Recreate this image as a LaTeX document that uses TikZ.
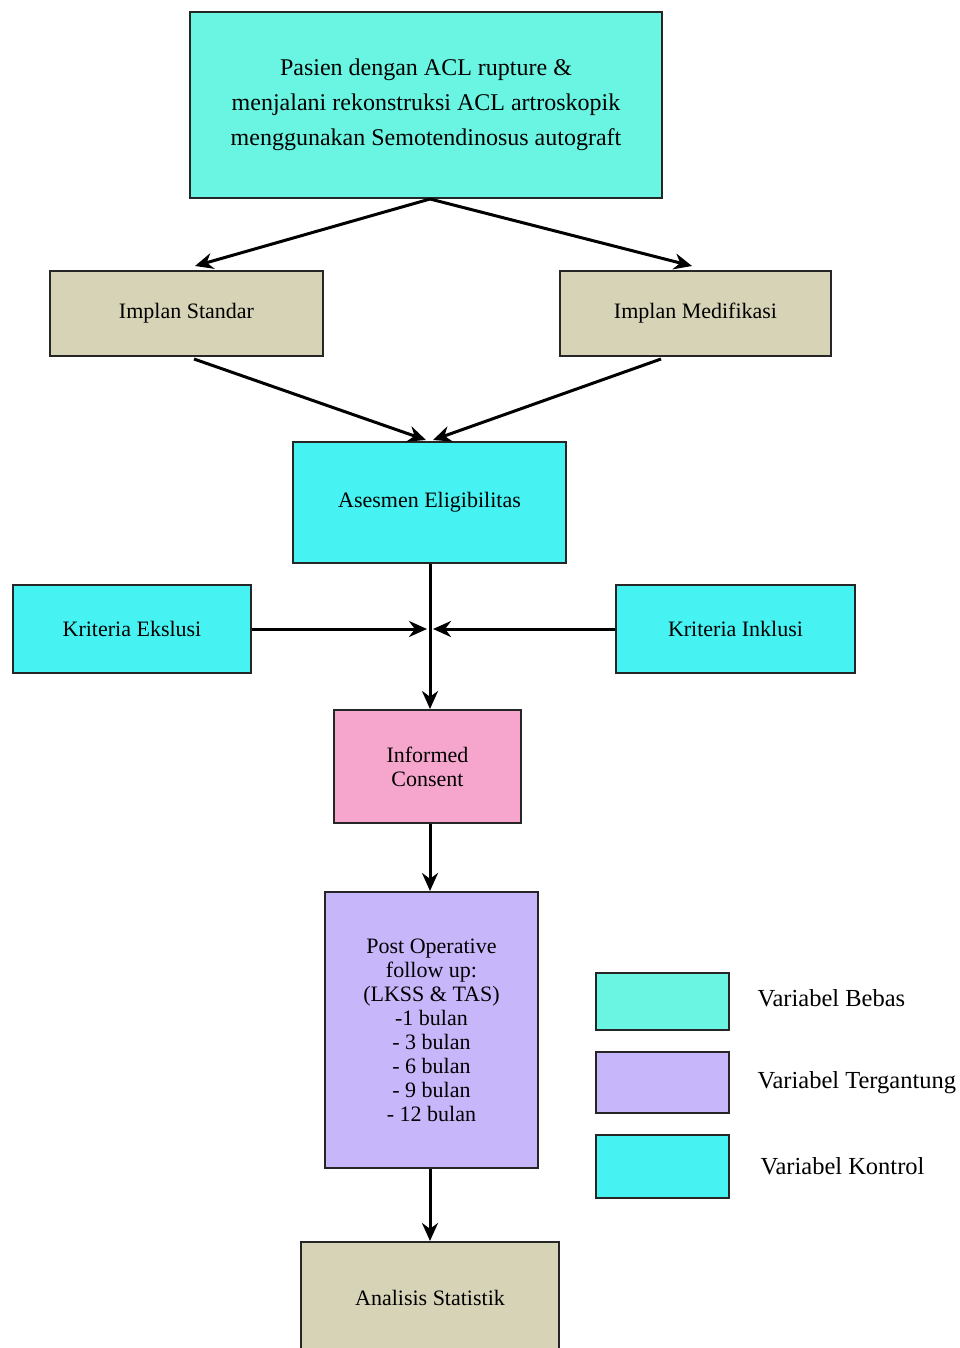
\documentclass[tikz,border=0pt]{standalone}
\usepackage{fontspec}
\setmainfont{Liberation Serif}
\usetikzlibrary{arrows.meta}
\definecolor{bebas}{RGB}{105,245,226}
\definecolor{kontrol}{RGB}{70,242,242}
\definecolor{implan}{RGB}{214,211,182}
\definecolor{consentpink}{RGB}{246,166,204}
\definecolor{tergantung}{RGB}{200,182,250}
\tikzset{
  box/.style={draw=black!85, line width=2pt, align=center, inner sep=0pt,
    font=\fontsize{22}{24}\selectfont},
  legendtext/.style={anchor=west, font=\fontsize{24.5}{26}\selectfont},
  arr/.style={-{Stealth[length=18pt,width=16pt]}, line width=3pt}
}
\begin{document}
\begin{tikzpicture}[x=1pt,y=-1pt]
    \useasboundingbox (0,0) rectangle (960,1348);
    \clip (0,0) rectangle (960,1348);
    \node[box, fill=bebas, minimum width=472pt, minimum height=186pt,
      font=\fontsize{24}{35}\selectfont] (pasien) at (426,105)
      {Pasien dengan ACL rupture \&\\menjalani rekonstruksi ACL artroskopik\\menggunakan Semotendinosus autograft};
    \node[box, fill=implan, minimum width=273pt, minimum height=85pt] (standar) at (186.5,313.5) {Implan Standar};
    \node[box, fill=implan, minimum width=271pt, minimum height=85pt] (modifikasi) at (695.5,313.5) {Implan Medifikasi};
    \node[box, fill=kontrol, minimum width=273pt, minimum height=121pt] (asesmen) at (429.5,502.5) {Asesmen Eligibilitas};
    \node[box, fill=kontrol, minimum width=238pt, minimum height=88pt] (eksklusi) at (132,629) {Kriteria Ekslusi};
    \node[box, fill=kontrol, minimum width=239pt, minimum height=88pt] (inklusi) at (735.5,629) {Kriteria Inklusi};
    \node[box, fill=consentpink, minimum width=187pt, minimum height=113pt] (consent) at (427.5,766.5) {Informed\\Consent};
    \node[box, fill=tergantung, minimum width=213pt, minimum height=276pt] (followup) at (431.5,1030)
      {Post Operative\\follow up:\\(LKSS \& TAS)\\-1 bulan\\- 3 bulan\\- 6 bulan\\- 9 bulan\\- 12 bulan};
    \node[box, fill=implan, minimum width=258pt, minimum height=130pt] (analisis) at (430,1307) {};
    \node[font=\fontsize{22}{24}\selectfont] at (430,1298) {Analisis Statistik};
    % legenda
    \node[box, fill=bebas, minimum width=133pt, minimum height=57pt] (lgbebas) at (662.5,1001.5) {};
    \node[box, fill=tergantung, minimum width=133pt, minimum height=61pt] (lgtergantung) at (662.5,1082.5) {};
    \node[box, fill=kontrol, minimum width=133pt, minimum height=63pt] (lgkontrol) at (662.5,1166.5) {};
    \node[legendtext] (txbebas) at (754,998) {Variabel Bebas};
    \node[legendtext] (txtergantung) at (754,1083) {Variabel Tergantung};
    \node[legendtext] (txkontrol) at (757,1166) {Variabel Kontrol};
    % panah
    \coordinate (pasienbawah) at (430,199);
    \coordinate (kiriatas) at (195,266);
    \coordinate (kananatas) at (692,266);
    \coordinate (temu) at (430,440);
    \coordinate (silang) at (430,629);
    \draw[arr] (pasienbawah) -- (kiriatas);
    \draw[arr] (pasienbawah) -- (kananatas);
    \draw[arr] (standar.south west) ++(145,2) -- ([xshift=-4pt]temu);
    \draw[arr] (modifikasi.south west) ++(102,2) -- ([xshift=3pt]temu);
    \draw[arr] (asesmen.south -| silang) -- (consent.north -| silang);
    \draw[arr] (eksklusi.east) -- ([xshift=-3pt]silang);
    \draw[arr] (inklusi.west) -- ([xshift=3pt]silang);
    \draw[arr] (consent.south -| silang) -- (followup.north -| silang);
    \draw[arr] (followup.south -| silang) -- (analisis.north -| silang);
\end{tikzpicture}
\end{document}
